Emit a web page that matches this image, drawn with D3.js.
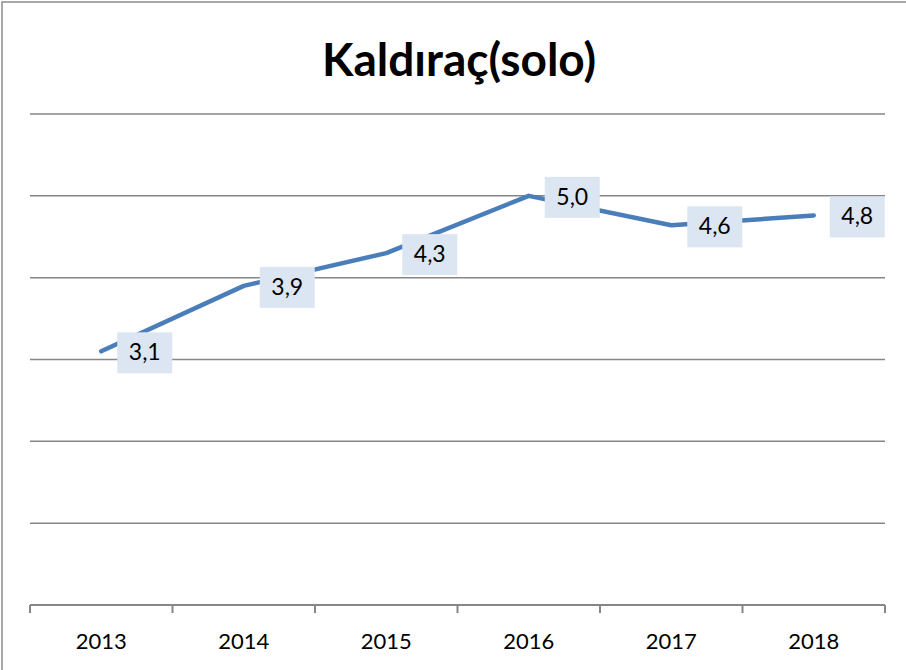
<!DOCTYPE html>
<html>
<head>
  <meta charset="utf-8">
  <title>Kaldıraç(solo)</title>
  <script src="https://d3js.org/d3.v7.min.js"></script>
  <style>
    body {
      margin: 0;
      padding: 0;
      background: #ffffff;
    }
    svg text {
      font-family: Lato, "Open Sans", sans-serif;
    }
  </style>
</head>
<body>
  <div id="chart"></div>
  <script>
    // data
    var years = ["2013", "2014", "2015", "2016", "2017", "2018"]
    var values = [3.1, 3.9, 4.3, 5.0, 4.64, 4.76]
    var labels = ["3,1", "3,9", "4,3", "5,0", "4,6", "4,8"]
    var gridTicks = [1, 2, 3, 4, 5, 6]

    var W = 906, H = 670
    var margin = { top: 114, right: 21, bottom: 65, left: 30 },
      width = W - margin.left - margin.right,
      height = H - margin.top - margin.bottom

    var svg = d3.select("#chart")
      .append("svg")
      .attr("width", W)
      .attr("height", H)

    // outer frame
    svg.append("rect")
      .attr("x", 2).attr("y", 2)
      .attr("width", W + 10).attr("height", H + 10)
      .attr("fill", "none")
      .attr("stroke", "#8c8c8c")
      .attr("stroke-width", 1.5)

    svg.append("text")
      .attr("x", 459)
      .attr("y", 76)
      .attr("text-anchor", "middle")
      .attr("font-size", "46px")
      .attr("font-weight", "bold")
      .attr("fill", "#000")
      .text("Kaldıraç(solo)")

    var g = svg.append("g")
      .attr("transform", "translate(" + margin.left + "," + margin.top + ")")

    var x = d3.scaleBand()
      .domain(years)
      .range([0, width])

    var y = d3.scaleLinear()
      .domain([0, 6])
      .range([height, 0])

    // gridlines
    g.selectAll(".grid")
      .data(gridTicks)
      .enter().append("line")
      .attr("x1", 0).attr("x2", width)
      .attr("y1", function (d) { return y(d) })
      .attr("y2", function (d) { return y(d) })
      .attr("stroke", "#868686")
      .attr("stroke-width", 1.5)

    // x axis
    var xAxis = g.append("g")
      .attr("transform", "translate(0," + height + ")")
    xAxis.append("line")
      .attr("x1", 0).attr("x2", width)
      .attr("stroke", "#868686")
      .attr("stroke-width", 2)
    var edges = years.map(function (d) { return x(d) }).concat([width])
    xAxis.selectAll(".tick")
      .data(edges)
      .enter().append("line")
      .attr("x1", function (d) { return d }).attr("x2", function (d) { return d })
      .attr("y1", 0).attr("y2", 8)
      .attr("stroke", "#868686")
      .attr("stroke-width", 2)
    xAxis.selectAll(".lbl")
      .data(years)
      .enter().append("text")
      .attr("x", function (d) { return x(d) + x.bandwidth() / 2 })
      .attr("y", 44)
      .attr("text-anchor", "middle")
      .attr("font-size", "22px")
      .attr("fill", "#000")
      .text(function (d) { return d })

    // line
    var pts = years.map(function (d, i) { return { year: d, value: values[i], label: labels[i] } })
    g.append("path")
      .datum(pts)
      .attr("fill", "none")
      .attr("stroke", "#4a7ebb")
      .attr("stroke-width", 4.5)
      .attr("stroke-linecap", "round")
      .attr("stroke-linejoin", "round")
      .attr("d", d3.line()
        .x(function (d) { return x(d.year) + x.bandwidth() / 2 })
        .y(function (d) { return y(d.value) })
      )

    // data labels
    var lab = g.selectAll(".dl")
      .data(pts)
      .enter().append("g")
      .attr("transform", function (d) {
        return "translate(" + (x(d.year) + x.bandwidth() / 2) + "," + y(d.value) + ")"
      })
    lab.append("rect")
      .attr("x", 16).attr("y", -19)
      .attr("width", 55).attr("height", 41)
      .attr("fill", "#dce6f2")
    lab.append("text")
      .attr("x", 43.5).attr("y", 9)
      .attr("text-anchor", "middle")
      .attr("font-size", "23px")
      .attr("fill", "#000")
      .text(function (d) { return d.label })
  </script>
</body>
</html>
